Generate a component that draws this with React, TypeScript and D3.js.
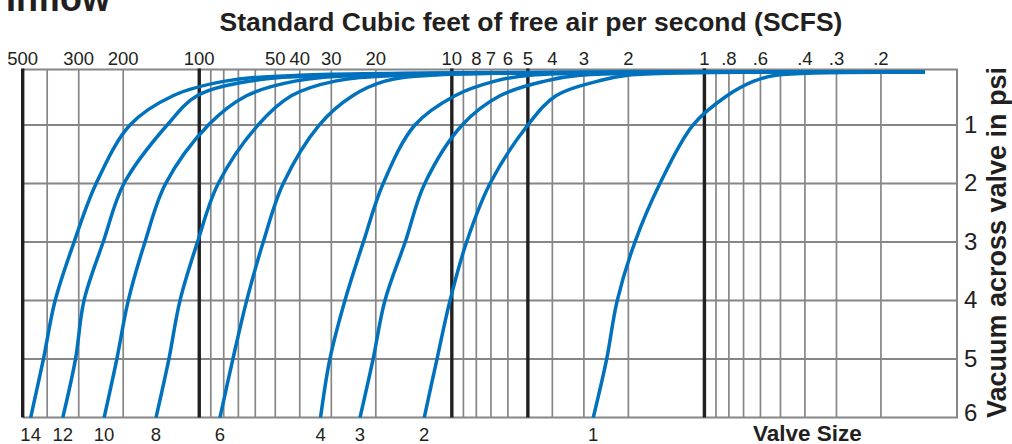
import * as d3 from "d3";
import { useEffect, useRef } from "react";

// vacuum levels (psi) at which each valve curve was read, bottom to top
const PSI_LEVELS = [6, 5, 4, 3, 2, 1, 0.5, 0.25, 0.15, 0.1];

// flow (SCFS) for each valve size at the psi levels above
const SCFS_14 = [465, 414, 372, 313, 256, 188, 127, 79, 40, 0.134];
const SCFS_12 = [347, 309, 286, 240, 198.6, 134, 102, 63, 30.4, 0.134];
const SCFS_10 = [238, 212, 191, 164, 135.8, 92, 65, 41.8, 23.1, 0.134];
const SCFS_8 = [148.3, 131.9, 119.2, 101.6, 84.1, 58.5, 43.2, 29, 16, 0.134];
const SCFS_6 = [82.8, 73.6, 64.9, 55.8, 46.5, 33.5, 24.7, 18.4, 12.2, 0.134];
const SCFS_4 = [33.1, 30.4, 26.5, 22.4, 18.7, 14, 9.72, 6.75, 4.91, 0.134];
const SCFS_3 = [23.1, 20.5, 18.4, 15.3, 12.8, 9.1, 6.45, 4.28, 3.11, 0.134];
const SCFS_2 = [12.86, 11.45, 10.17, 8.74, 7.06, 5.0, 3.87, 2.64, 2.01, 0.134];
const SCFS_1 = [2.755, 2.438, 2.214, 1.884, 1.5, 1.11, 0.814, 0.637, 0.521, 0.134];

const VALVE_SIZES = ["14", "12", "10", "8", "6", "4", "3", "2", "1"];
const VALVE_SCFS = [SCFS_14, SCFS_12, SCFS_10, SCFS_8, SCFS_6, SCFS_4, SCFS_3, SCFS_2, SCFS_1];

const MAJOR_LINES = [500, 100, 10, 5, 1];
const MINOR_LINES = [400, 300, 200, 90, 80, 70, 60, 50, 40, 30, 20, 9, 8, 7, 6, 4, 3, 2, 0.9, 0.8, 0.7, 0.6, 0.5, 0.4, 0.3, 0.2];
const TOP_LABELS = [500, 300, 200, 100, 50, 40, 30, 20, 10, 8, 7, 6, 5, 4, 3, 2, 1, 0.8, 0.6, 0.4, 0.3, 0.2];
const PSI_TICKS = [1, 2, 3, 4, 5, 6];
const PSI_GRID = [1, 2, 3, 4, 5];

const FONT = "'Liberation Sans', Arial, Helvetica, sans-serif";
const INK = "#231f20";
const GRID = "#868686";
const BLUE = "#0071bc";

export default function App() {
  const ref = useRef<SVGSVGElement | null>(null);

  useEffect(() => {
    const width = 1012;
    const height = 444;
    const svg = d3.select(ref.current);
    svg.selectAll("*").remove();
    svg.attr("width", width).attr("height", height).attr("viewBox", `0 0 ${width} ${height}`);

    const x = d3.scaleLog().domain([500, 0.1]).range([22.7, 957]);
    const y = d3.scaleLinear().domain([0, 6]).range([66.5, 417.6]);
    const yTop = y(0.05);
    const yBottom = y(6);

    const g = svg.append("g");

    // horizontal grid
    g.selectAll("line.hgrid")
      .data(PSI_GRID)
      .enter()
      .append("line")
      .attr("x1", x(500))
      .attr("x2", x(0.1))
      .attr("y1", (d) => y(d))
      .attr("y2", (d) => y(d))
      .attr("stroke", GRID)
      .attr("stroke-width", 2);

    // minor vertical grid
    g.selectAll("line.vgrid")
      .data(MINOR_LINES)
      .enter()
      .append("line")
      .attr("x1", (d) => x(d))
      .attr("x2", (d) => x(d))
      .attr("y1", yTop)
      .attr("y2", yBottom)
      .attr("stroke", GRID)
      .attr("stroke-width", 1.7);

    // frame (top, right, bottom)
    g.append("path")
      .attr("d", `M${x(500)},${yTop}H${x(0.1)}V${yBottom}H${x(500)}`)
      .attr("fill", "none")
      .attr("stroke", GRID)
      .attr("stroke-width", 2);

    // heavy decade lines
    g.selectAll("line.major")
      .data(MAJOR_LINES)
      .enter()
      .append("line")
      .attr("x1", (d) => x(d))
      .attr("x2", (d) => x(d))
      .attr("y1", yTop - 1)
      .attr("y2", yBottom)
      .attr("stroke", INK)
      .attr("stroke-width", 3.4);

    // curves
    const line = d3
      .line<number>()
      .x((d) => x(d))
      .y((_, i) => y(PSI_LEVELS[i]))
      .curve(d3.curveCatmullRom.alpha(0.5));

    VALVE_SCFS.forEach((series) => {
      g.append("path")
        .attr("d", line(series) ?? "")
        .attr("fill", "none")
        .attr("stroke", BLUE)
        .attr("stroke-width", 3.5);
    });

    // top axis labels
    const fmt = (v: number) => (v < 1 ? String(v).replace(/^0/, "") : String(v));
    g.selectAll("text.top")
      .data(TOP_LABELS)
      .enter()
      .append("text")
      .attr("x", (d) => x(d))
      .attr("y", 65)
      .attr("text-anchor", "middle")
      .attr("font-family", FONT)
      .attr("font-size", 18.5)
      .attr("fill", INK)
      .text((d) => fmt(d));

    // valve size labels at the foot of each curve
    g.selectAll("text.valve")
      .data(VALVE_SIZES)
      .enter()
      .append("text")
      .attr("x", (_, i) => x(VALVE_SCFS[i][0]))
      .attr("y", 441)
      .attr("text-anchor", "middle")
      .attr("font-family", FONT)
      .attr("font-size", 18.5)
      .attr("fill", INK)
      .text((d) => d);

    // right psi labels
    g.selectAll("text.psi")
      .data(PSI_TICKS)
      .enter()
      .append("text")
      .attr("x", 964)
      .attr("y", (d) => y(d) - (d === 6 ? 5 : 1))
      .attr("dominant-baseline", "central")
      .attr("font-family", FONT)
      .attr("font-size", 24)
      .attr("fill", INK)
      .text((d) => String(d));

    // titles
    svg
      .append("text")
      .attr("x", 6)
      .attr("y", 10.5)
      .attr("font-family", FONT)
      .attr("font-weight", "bold")
      .attr("font-size", 36)
      .attr("fill", INK)
      .text("Inflow");

    svg
      .append("text")
      .attr("x", 531)
      .attr("y", 30.5)
      .attr("text-anchor", "middle")
      .attr("font-family", FONT)
      .attr("font-weight", "bold")
      .attr("font-size", 26.5)
      .attr("fill", INK)
      .text("Standard Cubic feet of free air per second (SCFS)");

    svg
      .append("text")
      .attr("x", 753)
      .attr("y", 440.5)
      .attr("font-family", FONT)
      .attr("font-weight", "bold")
      .attr("font-size", 22.5)
      .attr("fill", INK)
      .text("Valve Size");

    svg
      .append("text")
      .attr("transform", `translate(1005.5,242.5) rotate(-90)`)
      .attr("text-anchor", "middle")
      .attr("font-family", FONT)
      .attr("font-weight", "bold")
      .attr("font-size", 27)
      .attr("fill", INK)
      .text("Vacuum across valve in psi");
  }, []);

  return (
    <svg
      ref={ref}
      style={{ position: "absolute", left: 0, top: 0, display: "block", background: "#fff" }}
    />
  );
}
